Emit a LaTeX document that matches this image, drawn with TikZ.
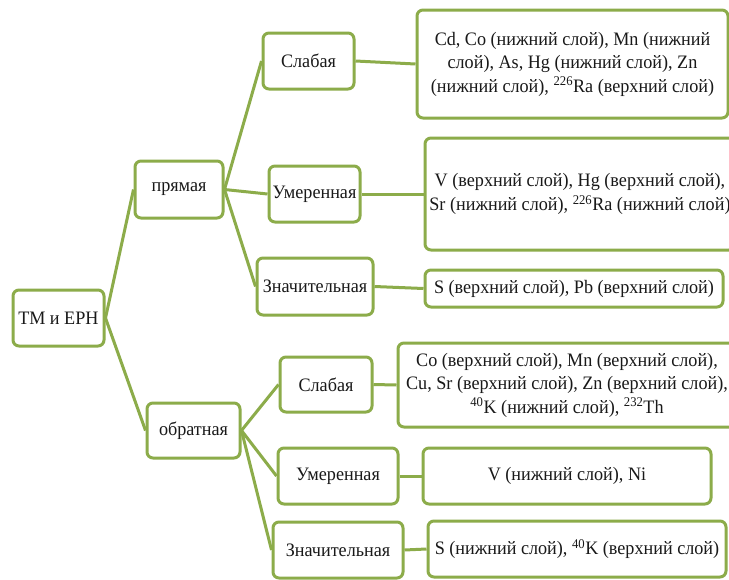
\documentclass[tikz,border=0pt]{standalone}
\usepackage{fontspec}
\setmainfont{Liberation Serif}[FakeStretch=0.955]
\usetikzlibrary{backgrounds}
\definecolor{leaf}{RGB}{140,172,74}
\definecolor{ink}{RGB}{25,25,25}
\tikzset{
  box/.style={draw=leaf, line width=3pt, rounded corners=6pt, fill=white,
    inner sep=0pt, align=center, text=ink,
    font=\fontsize{19}{23.5}\selectfont},
  link/.style={draw=leaf, line width=3pt}
}
\begin{document}
\begin{tikzpicture}[x=1pt, y=-1pt]
\useasboundingbox (0,0) rectangle (729,579);
\clip (0,0) rectangle (729,579);

% root and the two branches
\node[box, minimum width=91pt, minimum height=56pt] (root) at (58.5,318) {ТМ и ЕРН};
\node[box, minimum width=88pt, minimum height=57pt] (pr) at (179,189.5) {прямая};
\node[box, minimum width=93pt, minimum height=55pt] (ob) at (193.5,430.5) {обратная};

% strength of the direct link
\node[box, minimum width=91pt, minimum height=56pt] (s1) at (308.5,61) {Слабая};
\node[box, minimum width=91pt, minimum height=56pt] (u1) at (314.5,194) {Умеренная};
\node[box, minimum width=116pt, minimum height=57pt] (z1) at (315,286.5) {Значительная};

% strength of the inverse link
\node[box, minimum width=92pt, minimum height=55pt] (s2) at (326,384.5) {Слабая};
\node[box, minimum width=120pt, minimum height=56pt] (u2) at (338,476) {Умеренная};
\node[box, minimum width=130pt, minimum height=56pt] (z2) at (338,550) {Значительная};

% element lists
\node[box, minimum width=311pt, minimum height=108pt] (r1) at (572.5,64)
  {Cd, Co (нижний слой), Mn (нижний\\слой), As, Hg (нижний слой), Zn\\(нижний слой), \textsuperscript{226}Ra (верхний слой)};
\node[box, minimum width=310pt, minimum height=112pt] (r2) at (580,194)
  {V (верхний слой), Hg (верхний слой),\\Sr (нижний слой), \textsuperscript{226}Ra (нижний слой)};
\node[box, minimum width=298pt, minimum height=37pt] (r3) at (574,288.5)
  {S (верхний слой), Pb (верхний слой)};
\node[box, minimum width=338pt, minimum height=84pt] (r4) at (567,385)
  {Co (верхний слой), Mn (верхний слой),\\Cu, Sr (верхний слой), Zn (верхний слой),\\\textsuperscript{40}K (нижний слой), \textsuperscript{232}Th};
\node[box, minimum width=288pt, minimum height=56pt] (r5) at (567,476)
  {V (нижний слой), Ni};
\node[box, minimum width=298pt, minimum height=56pt] (r6) at (577,549)
  {S (нижний слой), \textsuperscript{40}K (верхний слой)};

% connectors, kept behind the boxes
\begin{scope}[on background layer]
\fill[white] (0,0) rectangle (729,579);
\draw[link] (root.east) -- (pr.west);
\draw[link] (root.east) -- (ob.west);
\draw[link] (pr.east) -- (s1.west);
\draw[link] (pr.east) -- (u1.west);
\draw[link] (pr.east) -- (z1.west);
\draw[link] (ob.east) -- (s2.west);
\draw[link] (ob.east) -- (u2.west);
\draw[link] (ob.east) -- (z2.west);
\draw[link] (s1.east) -- (r1.west);
\draw[link] (u1.east) -- (r2.west);
\draw[link] (z1.east) -- (r3.west);
\draw[link] (s2.east) -- (r4.west);
\draw[link] (u2.east) -- (r5.west);
\draw[link] (z2.east) -- (r6.west);
\end{scope}
\end{tikzpicture}
\end{document}
